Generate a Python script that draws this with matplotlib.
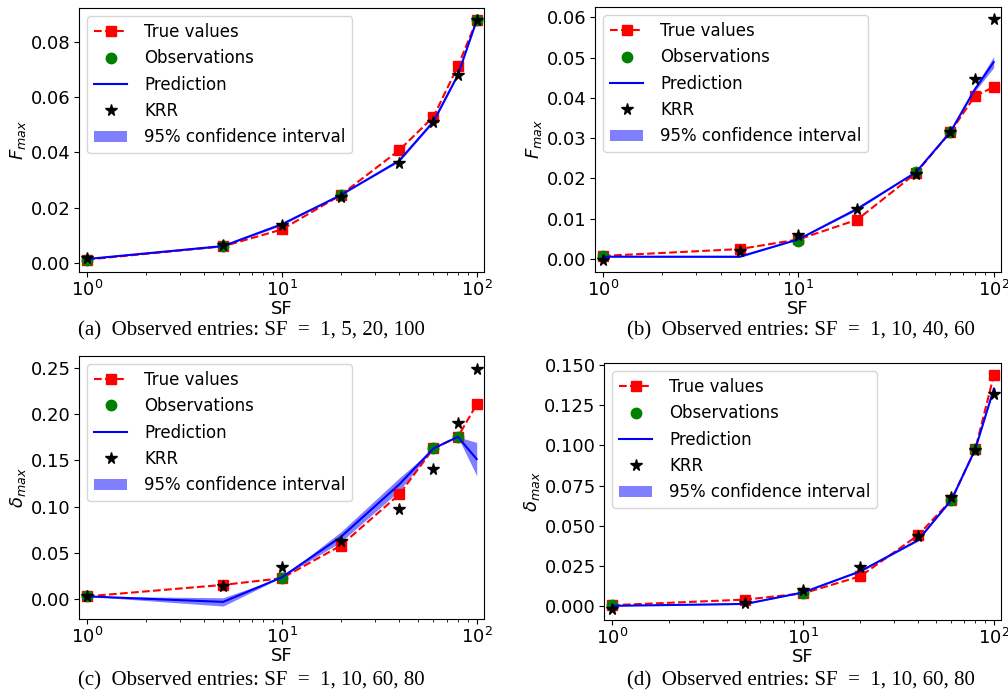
import matplotlib
matplotlib.use("Agg")
import matplotlib.pyplot as plt
import numpy as np

sf = [1, 5, 10, 20, 40, 60, 80, 100]

# Panel (a)
a_true = [0.0012, 0.0060, 0.0121, 0.0245, 0.0408, 0.0529, 0.0712, 0.0878]
a_pred = [0.0014, 0.0061, 0.0140, 0.0245, 0.0370, 0.0512, 0.0680, 0.0878]
a_ci = [0.0, 0.0002, 0.0004, 0.0, 0.0004, 0.0004, 0.0004, 0.0]
a_krr = [0.0019, 0.0066, 0.0139, 0.0239, 0.0360, 0.0510, 0.0680, 0.0880]
a_obs_sf = [1, 5, 20, 100]
a_obs = [0.0012, 0.0060, 0.0245, 0.0878]

# Panel (b)
b_true = [0.0007, 0.0024, 0.0048, 0.0097, 0.0213, 0.0315, 0.0404, 0.0427]
b_pred = [0.0005, 0.0005, 0.0048, 0.0124, 0.0215, 0.0315, 0.0421, 0.0489]
b_ci = [0.0, 0.0002, 0.0, 0.0003, 0.0, 0.0, 0.0005, 0.0014]
b_krr = [-0.0002, 0.0019, 0.0060, 0.0123, 0.0210, 0.0315, 0.0446, 0.0596]
b_obs_sf = [1, 10, 40, 60]
b_obs = [0.0007, 0.0045, 0.0215, 0.0315]

# Panel (c)
c_true = [0.0030, 0.0154, 0.0226, 0.0577, 0.1132, 0.1630, 0.1755, 0.2106]
c_pred = [0.0030, -0.0030, 0.0236, 0.0670, 0.1240, 0.1630, 0.1755, 0.1515]
c_ci = [0.0, 0.0045, 0.0, 0.0055, 0.0070, 0.0, 0.0, 0.0180]
c_krr = [0.0030, 0.0147, 0.0350, 0.0627, 0.0978, 0.1408, 0.1910, 0.2486]
c_obs_sf = [1, 10, 60, 80]
c_obs = [0.0030, 0.0226, 0.1630, 0.1755]

# Panel (d)
d_true = [0.0006, 0.0041, 0.0079, 0.0186, 0.0440, 0.0661, 0.0977, 0.1436]
d_pred = [0.0002, 0.0014, 0.0085, 0.0217, 0.0409, 0.0661, 0.0977, 0.1353]
d_ci = [0.0, 0.0003, 0.0, 0.0004, 0.0005, 0.0, 0.0, 0.0008]
d_krr = [-0.0015, 0.0020, 0.0103, 0.0242, 0.0434, 0.0678, 0.0973, 0.1318]
d_obs_sf = [1, 10, 60, 80]
d_obs = [0.0006, 0.0079, 0.0661, 0.0977]

ylabels = [r'$F_{max}$', r'$F_{max}$', r'$\delta_{max}$', r'$\delta_{max}$']
captions = ['(a)  Observed entries: SF  =  1, 5, 20, 100',
            '(b)  Observed entries: SF  =  1, 10, 40, 60',
            '(c)  Observed entries: SF  =  1, 10, 60, 80',
            '(d)  Observed entries: SF  =  1, 10, 60, 80']

W, H = 1008, 694
fig = plt.figure(figsize=(W / 100, H / 100), dpi=100)

# axes boxes in pixels: left, top, right, bottom
boxes = [(79, 8, 484, 272), (595, 7, 1001, 272), (79, 356, 484, 619), (604, 363, 1001, 620)]
ylims = [(-0.0033, 0.0923), (-0.0033, 0.0626), (-0.0215, 0.2630), (-0.0086, 0.1512)]
yticks = [np.arange(0, 0.081, 0.02), np.arange(0, 0.061, 0.01),
          np.arange(0, 0.251, 0.05), np.arange(0, 0.151, 0.025)]
yfmt = ['%.2f', '%.2f', '%.2f', '%.3f']
caption_x = [251, 801, 251, 801]
caption_y = [331, 331, 681, 681]

panels = [
    (a_true, a_pred, a_ci, a_krr, a_obs_sf, a_obs),
    (b_true, b_pred, b_ci, b_krr, b_obs_sf, b_obs),
    (c_true, c_pred, c_ci, c_krr, c_obs_sf, c_obs),
    (d_true, d_pred, d_ci, d_krr, d_obs_sf, d_obs),
]

fs = 13
for i, (tv, pr, ci, krr, osf, ob) in enumerate(panels):
    l, t, r, b = boxes[i]
    ax = fig.add_axes([l / W, 1 - b / H, (r - l) / W, (b - t) / H])
    pr = np.array(pr)
    ci = np.array(ci)
    ax.plot(sf, tv, 'r--', marker='s', markersize=6.5, lw=1.5, label='True values')
    ax.plot(osf, ob, 'o', color='green', markersize=7.5, lw=0, label='Observations')
    ax.plot(sf, pr, 'b-', lw=1.5, label='Prediction')
    ax.plot(sf, krr, 'k*', markersize=8.5, lw=0, label='KRR')
    ax.fill_between(sf, pr - ci, pr + ci, color='b', alpha=0.5, lw=0,
                    label='95% confidence interval')
    ax.set_xscale('log')
    ax.set_xlim(0.91, 109)
    ax.set_ylim(*ylims[i])
    ax.set_yticks(yticks[i])
    ax.set_yticklabels([yfmt[i] % v for v in yticks[i]])
    ax.tick_params(labelsize=fs, pad=2.5)
    ax.set_xlabel('SF', fontsize=fs, labelpad=0)
    ax.set_ylabel(ylabels[i], fontsize=fs, labelpad=2)
    ax.legend(loc='upper left', fontsize=12, handlelength=2.0, borderpad=0.4,
              labelspacing=0.5, handletextpad=1.0)
    fig.text(caption_x[i] / W, 1 - caption_y[i] / H, captions[i],
             family='Liberation Serif', fontsize=15, ha='center', va='center')

fig.savefig('out.png', dpi=100)
